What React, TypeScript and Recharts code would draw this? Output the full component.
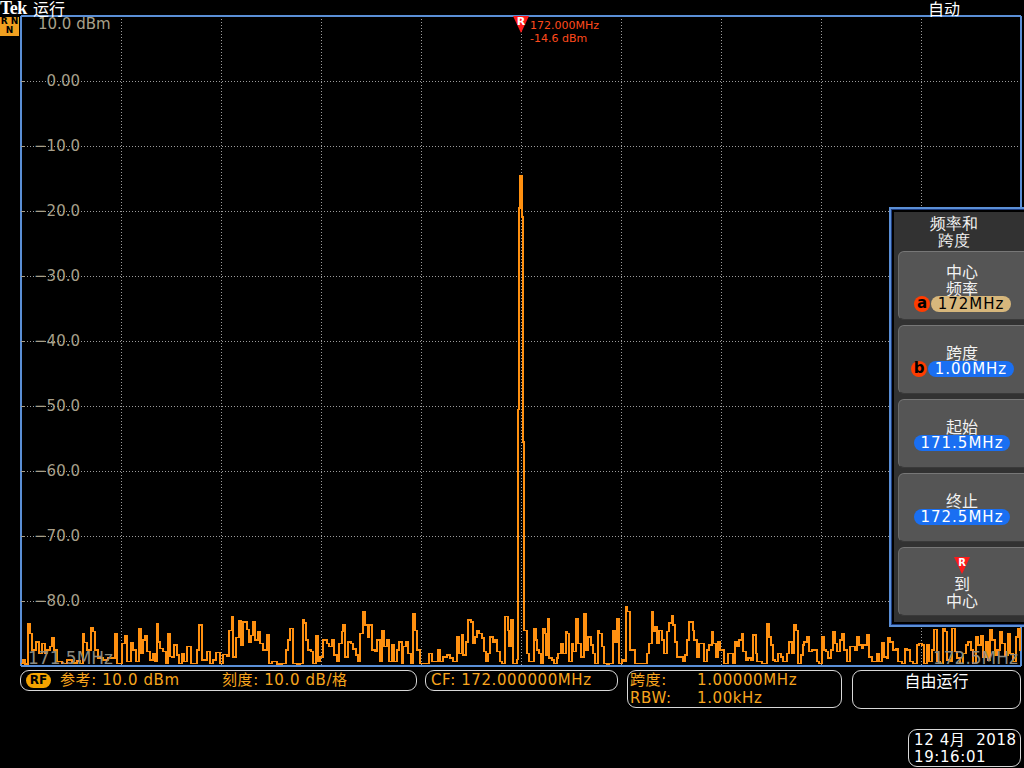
import React from "react";
import { LineChart, Line, XAxis, YAxis, CartesianGrid, ReferenceLine, ReferenceDot } from "recharts";

// ---------- data ----------
const START_MHZ = 171.5;
const STOP_MHZ = 172.5;
const CENTER_MHZ = 172.0;
const PEAK_DBM = -14.6;
const REF_DBM = 10;
const BOTTOM_DBM = -90;
const DB_TICKS = [10, 0, -10, -20, -30, -40, -50, -60, -70, -80, -90];
const FREQ_GRID = [171.5, 171.6, 171.7, 171.8, 171.9, 172.0, 172.1, 172.2, 172.3, 172.4, 172.5];
const FREQ_LABELS = ["171.5MHz", "172.5MHz"];

// [kHz above start frequency, level dBm]
const NOISE_LEFT: [number, number][] = [
  [0, -89.6], [2, -89.0], [4, -89.7], [7, -83.5], [9, -85.0], [11, -87.5], [15, -86.3], [18, -88.1],
  [21, -86.5], [24, -88.1], [26, -87.5], [29, -87.0], [31, -85.6], [33, -87.5], [36, -89.3], [41, -89.6],
  [46, -89.1], [51, -89.5], [56, -89.2], [59, -89.6], [62, -85.0], [63, -86.4], [66, -87.5], [70, -84.1],
  [72, -84.7], [74, -87.5], [77, -88.8], [82, -89.1], [87, -88.8], [94, -85.0], [96, -89.6], [101, -86.5],
  [104, -85.4], [106, -89.3], [110, -86.4], [112, -87.5], [115, -89.3], [118, -84.3], [120, -88.1], [122, -86.0],
  [124, -85.3], [126, -87.8], [129, -89.1], [132, -88.1], [134, -89.3], [136, -83.5], [137, -86.3], [139, -87.3],
  [142, -87.8], [145, -89.6], [147, -85.0], [149, -88.5], [151, -88.6], [153, -86.8], [156, -88.3], [158, -89.6],
  [161, -88.1], [163, -89.3], [166, -87.0], [170, -89.6], [176, -87.5], [178, -83.7], [181, -89.1], [186, -87.8],
  [189, -89.6], [192, -89.1], [195, -87.9], [199, -89.6], [202, -88.2], [206, -88.5], [208, -84.5], [211, -82.4],
  [212, -88.6], [215, -85.6], [218, -83.0], [220, -86.8], [222, -83.2], [226, -84.4], [228, -86.3], [230, -85.3],
  [232, -83.2], [234, -86.0], [237, -84.8], [239, -86.5], [242, -87.5], [246, -85.2], [248, -89.6], [251, -89.3],
  [256, -89.7], [261, -89.6], [265, -87.5], [267, -86.0], [269, -84.2], [272, -89.6], [276, -89.7], [279, -89.6],
  [282, -82.9], [283, -83.4], [285, -86.0], [287, -87.5], [290, -87.8], [292, -89.6], [295, -85.4], [297, -89.3],
  [299, -88.6], [302, -86.0], [306, -86.5], [308, -87.0], [311, -86.0], [313, -88.3], [316, -89.3], [318, -86.5],
  [321, -84.7], [322, -83.7], [324, -88.6], [327, -86.3], [330, -86.5], [332, -87.4], [335, -88.3], [337, -89.3],
  [339, -85.0], [342, -81.7], [344, -83.7], [347, -85.5], [348, -83.7], [351, -87.5], [354, -87.8], [356, -86.0],
  [359, -89.3], [361, -84.5], [363, -87.0], [366, -86.0], [368, -89.3], [371, -86.8], [373, -89.3], [376, -87.5],
  [378, -86.3], [381, -89.6], [382, -87.0], [385, -86.3], [387, -88.1], [390, -89.6], [392, -82.0], [394, -84.5],
  [396, -87.5], [399, -89.6], [404, -89.6], [408, -88.1], [411, -89.3], [414, -89.3], [417, -87.5], [419, -89.3],
  [422, -88.6], [426, -88.3], [429, -88.8], [432, -89.3], [436, -85.5], [438, -88.1], [441, -85.2], [442, -88.3],
  [445, -86.3], [447, -82.9], [450, -83.2], [452, -86.5], [454, -85.5], [456, -84.5], [458, -85.0], [461, -85.7],
  [463, -87.8], [465, -89.3], [467, -88.1], [469, -85.5], [472, -86.3], [474, -86.0], [476, -87.8], [479, -89.3],
  [481, -89.6], [484, -82.4], [487, -84.5], [488, -87.0], [490, -82.9], [492, -89.6], [495, -89.6],
];

const CARRIER: [number, number][] = [
  [496, -89.0], [497, -50.5], [498, -19.5], [499, -14.6], [501, -20.9], [502, -55.5],
];

const NOISE_RIGHT: [number, number][] = [
  [503, -84.5], [506, -88.1], [508, -89.3], [513, -84.2], [515, -86.0], [516, -87.5], [518, -88.1], [520, -89.6],
  [522, -84.2], [524, -85.0], [525, -88.3], [527, -82.8], [528, -88.8], [531, -89.1], [533, -89.6], [536, -88.8],
  [537, -88.1], [540, -86.5], [542, -88.1], [545, -84.8], [546, -85.0], [548, -89.3], [551, -86.5], [552, -87.8],
  [555, -82.8], [557, -86.5], [560, -88.6], [563, -82.0], [565, -87.5], [567, -85.5], [570, -86.8], [572, -88.1],
  [574, -89.6], [577, -84.5], [578, -85.0], [581, -87.0], [583, -89.6], [586, -89.7], [588, -89.6], [592, -84.5],
  [594, -86.3], [596, -82.8], [598, -89.6], [601, -89.1], [603, -89.3], [605, -80.9], [606, -81.6], [609, -87.5],
  [611, -87.5], [614, -89.6], [618, -89.6], [622, -89.6], [626, -88.1], [628, -86.5], [631, -81.7], [632, -84.7],
  [634, -84.0], [636, -86.5], [638, -84.5], [641, -86.0], [643, -88.1], [646, -84.7], [648, -83.4], [651, -82.2],
  [652, -83.7], [654, -86.3], [656, -88.6], [658, -88.6], [662, -89.3], [664, -88.3], [666, -86.0], [668, -83.2],
  [670, -83.2], [672, -84.5], [673, -86.0], [676, -88.6], [678, -86.5], [681, -86.5], [683, -89.3], [686, -87.5],
  [688, -86.8], [691, -84.8], [692, -86.5], [695, -88.6], [697, -86.3], [699, -87.5], [703, -89.6], [707, -88.1],
  [712, -89.6], [714, -86.3], [716, -87.0], [718, -86.0], [721, -85.0], [722, -87.8], [725, -89.1], [727, -88.8],
  [730, -89.1], [732, -85.2], [735, -88.1], [736, -89.3], [741, -89.6], [744, -89.6], [746, -83.5], [748, -85.5],
  [750, -86.8], [752, -89.1], [754, -89.3], [757, -88.1], [760, -88.6], [762, -89.3], [766, -88.1], [768, -86.3],
  [771, -88.1], [773, -83.7], [775, -84.5], [777, -89.6], [780, -88.3], [782, -86.8], [783, -86.3], [786, -85.5],
  [788, -87.8], [791, -87.5], [793, -87.5], [796, -89.3], [798, -89.6], [801, -85.5], [803, -87.5], [805, -87.8],
  [807, -88.8], [810, -87.5], [812, -84.7], [814, -86.5], [816, -87.8], [819, -86.0], [821, -85.0], [823, -87.5],
  [826, -89.3], [829, -87.0], [832, -87.0], [834, -87.5], [836, -85.5], [838, -86.8], [841, -87.3], [842, -86.8],
  [846, -85.2], [848, -88.6], [851, -89.3], [853, -89.3], [856, -88.1], [858, -89.3], [861, -86.4], [863, -88.6],
  [866, -88.8], [867, -85.7], [869, -86.3], [872, -87.5], [875, -87.3], [877, -89.3], [881, -89.6], [884, -87.3],
  [886, -87.5], [889, -89.3], [892, -89.6], [896, -86.8], [898, -86.5], [901, -86.8], [903, -89.6], [906, -86.8],
  [908, -89.3], [911, -87.5], [913, -84.4], [916, -89.3], [919, -89.6], [922, -84.2], [924, -84.7], [926, -89.1],
  [929, -89.3], [931, -84.2], [934, -87.8], [936, -88.8], [939, -89.6], [942, -88.1], [945, -86.8], [947, -86.3],
  [950, -87.5], [952, -89.6], [955, -85.5], [957, -86.8], [960, -85.4], [962, -88.6], [965, -86.3], [967, -89.1],
  [969, -84.4], [971, -86.0], [974, -88.3], [976, -87.5], [979, -84.8], [981, -86.5], [984, -88.3], [987, -85.0],
  [989, -88.1], [992, -89.3], [995, -85.5], [997, -84.2], [999, -87.5], [1000, -87.5],
];

const TRACE_DATA = [...NOISE_LEFT, ...CARRIER, ...NOISE_RIGHT].map(([k, v]) => ({
  f: START_MHZ + k / 1000,
  v,
}));

// ---------- styles ----------
const SANS = '"DejaVu Sans", "Noto Sans CJK SC", sans-serif';
const CJK = '"Noto Sans CJK SC", "DejaVu Sans", sans-serif';
const TRACE_COLOR = "#ff9010";
const STATUS_ORANGE = "#f7a51e";
const BORDER_BLUE = "#5b8fd6";
const AXIS_TEXT = "#a8a08b";
const GRID_GRAY = "#9c9c9c";
const MARKER_RED = "#ff4a1c";

const YTick = (props: any) => {
  const { x, y, payload } = props;
  const v = payload.value;
  if (v === BOTTOM_DBM) return <g />;
  if (v === REF_DBM) {
    return (
      <text x={x + 17} y={y + 8} dy="0.35em" fill={AXIS_TEXT} fontSize={15} fontFamily={SANS}>
        {`${v.toFixed(1)} dBm`}
      </text>
    );
  }
  const label = v === 0 ? "0.00" : `\u2212${Math.abs(v).toFixed(1)}`;
  return (
    <g>
      <line x1={x} x2={x + 4} y1={y} y2={y} stroke={AXIS_TEXT} strokeWidth={1} shapeRendering="crispEdges" />
      <text x={x + 59} y={y} dy="0.35em" textAnchor="end" fill={AXIS_TEXT} fontSize={15} fontFamily={SANS}>
        {label}
      </text>
    </g>
  );
};

const XTick = (props: any) => {
  const { x, y, payload } = props;
  const v = payload.value;
  if (v === START_MHZ) {
    return (
      <text x={x + 7} y={y - 2} fill="#8d8b80" fontSize={17} fontFamily={SANS}>
        {FREQ_LABELS[0]}
      </text>
    );
  }
  if (v === STOP_MHZ) {
    return (
      <text x={x - 3} y={y - 2} textAnchor="end" fill="#8d8b80" fontSize={17} fontFamily={SANS}>
        {FREQ_LABELS[1]}
      </text>
    );
  }
  return <g />;
};

const MarkerShape = (props: any) => {
  const { cx, cy } = props;
  return (
    <g>
      <polygon points={`${cx - 8},${cy} ${cx + 8},${cy} ${cx},${cy + 17}`} fill="#ff1a1a" />
      <text x={cx} y={cy + 9} textAnchor="middle" fill="#fff" fontSize={11} fontWeight="bold" fontFamily={SANS}>
        R
      </text>
      <text x={cx + 9} y={cy + 13} fill={MARKER_RED} fontSize={11} fontFamily={SANS}>
        {`${CENTER_MHZ.toFixed(3)}MHz`}
      </text>
      <text x={cx + 9} y={cy + 26} fill={MARKER_RED} fontSize={11} fontFamily={SANS}>
        {`${PEAK_DBM.toFixed(1)} dBm`}
      </text>
    </g>
  );
};

const btnBase: React.CSSProperties = {
  position: "absolute",
  left: 7,
  width: 140,
  height: 69,
  background: "#555555",
  borderRadius: 6,
  borderTop: "1px solid #777",
  borderLeft: "1px solid #6c6c6c",
  borderBottom: "1px solid #3a3a3a",
  boxSizing: "border-box",
  color: "#fff",
  fontFamily: CJK,
};

const line = (top: number, text: string, size = 16): React.ReactNode => (
  <div
    style={{
      position: "absolute",
      top,
      left: 0,
      width: 126,
      textAlign: "center",
      fontSize: size,
      lineHeight: "17px",
      color: "#f2f2f2",
    }}
  >
    {text}
  </div>
);

const pill = (left: number, top: number, width: number, bg: string, fg: string, text: string) => (
  <div
    style={{
      position: "absolute",
      left,
      top,
      width,
      height: 16,
      borderRadius: 8,
      background: bg,
      color: fg,
      fontFamily: SANS,
      fontSize: 15,
      lineHeight: "16px",
      textAlign: "center",
      letterSpacing: 1,
    }}
  >
    {text}
  </div>
);

const badge = (left: number, top: number, letter: string) => (
  <div
    style={{
      position: "absolute",
      left,
      top,
      width: 16,
      height: 16,
      borderRadius: 8,
      background: "#ff3c00",
      color: "#000",
      fontFamily: SANS,
      fontSize: 15,
      fontWeight: "bold",
      lineHeight: "14px",
      textAlign: "center",
    }}
  >
    {letter}
  </div>
);

const statusBox = (left: number, top: number, width: number, height: number): React.CSSProperties => ({
  position: "absolute",
  left,
  top,
  width,
  height,
  border: "1px solid #d8d8d8",
  borderRadius: 9,
  boxSizing: "border-box",
});

const stText = (left: number, top: number, text: string, color = STATUS_ORANGE) => (
  <div
    style={{
      position: "absolute",
      left,
      top,
      color,
      fontFamily: SANS,
      fontSize: 15,
      lineHeight: "16px",
      whiteSpace: "pre",
      letterSpacing: 0.6,
    }}
  >
    {text}
  </div>
);

export default function App() {
  return (
    <div
      style={{
        position: "fixed",
        left: 0,
        top: 0,
        width: 1024,
        height: 768,
        background: "#000",
        overflow: "hidden",
      }}
    >
      <div style={{ position: "absolute", left: 0, top: 0 }}>
        <LineChart
          width={1024}
          height={768}
          data={TRACE_DATA}
          margin={{ top: 16, right: 3, bottom: 102, left: 21 }}
        >
          <CartesianGrid stroke={GRID_GRAY} strokeDasharray="1 2" strokeWidth={1} shapeRendering="crispEdges" />
          <XAxis
            dataKey="f"
            type="number"
            domain={[START_MHZ, STOP_MHZ]}
            ticks={FREQ_GRID}
            mirror
            height={30}
            tickSize={0}
            tickMargin={0}
            axisLine={false}
            tickLine={false}
            tick={XTick}
            interval={0}
          />
          <XAxis
            xAxisId="top"
            orientation="top"
            dataKey="f"
            type="number"
            domain={[START_MHZ, STOP_MHZ]}
            ticks={FREQ_GRID}
            mirror
            height={30}
            tickSize={7}
            axisLine={false}
            tickLine={{ stroke: GRID_GRAY, strokeWidth: 1 }}
            tick={false}
            interval={0}
          />
          <YAxis
            type="number"
            domain={[BOTTOM_DBM, REF_DBM]}
            ticks={DB_TICKS}
            mirror
            width={60}
            tickSize={0}
            tickMargin={0}
            axisLine={false}
            tickLine={false}
            tick={YTick}
            interval={0}
          />
          <ReferenceLine x={START_MHZ} stroke={BORDER_BLUE} strokeWidth={2} />
          <ReferenceLine x={STOP_MHZ} stroke={BORDER_BLUE} strokeWidth={2} />
          <ReferenceLine y={BOTTOM_DBM} stroke={BORDER_BLUE} strokeWidth={2} />
          <Line
            type="stepAfter"
            dataKey="v"
            stroke={TRACE_COLOR}
            strokeWidth={1.5}
            dot={false}
            isAnimationActive={false}
            shapeRendering="crispEdges"
          />
          <ReferenceLine y={REF_DBM} stroke={BORDER_BLUE} strokeWidth={2} />
          <ReferenceDot x={CENTER_MHZ} y={REF_DBM} r={0} shape={MarkerShape} ifOverflow="visible" />
        </LineChart>
      </div>

      {/* header */}
      <div
        style={{
          position: "absolute",
          left: 0,
          top: 0,
          color: "#fff",
          fontFamily: '"Liberation Serif", serif',
          fontWeight: "bold",
          fontSize: 18,
          lineHeight: "16px",
          letterSpacing: -0.5,
        }}
      >
        Tek
      </div>
      <div style={{ position: "absolute", left: 33, top: 0, color: "#fff", fontFamily: CJK, fontSize: 16, lineHeight: "16px" }}>运行</div>
      <div style={{ position: "absolute", left: 928, top: 0, color: "#fff", fontFamily: CJK, fontSize: 16, lineHeight: "16px" }}>自动</div>

      {/* channel badge */}
      <div
        style={{
          position: "absolute",
          left: 0,
          top: 17,
          width: 19,
          height: 19,
          background: "#f0a020",
          color: "#000",
          fontFamily: SANS,
          fontSize: 9,
          fontWeight: "bold",
          lineHeight: "9px",
          textAlign: "center",
        }}
      >
        <div>R N</div>
        <div>N</div>
      </div>

      {/* side menu */}
      <div
        style={{
          position: "absolute",
          left: 889,
          top: 207,
          width: 150,
          height: 420,
          border: `2px solid ${BORDER_BLUE}`,
          boxShadow: "inset 0 0 0 1px #1d3c80, inset 0 0 0 3px #000",
          background: "#323232",
          boxSizing: "border-box",
        }}
      >
        <div style={{ position: "absolute", left: 0, top: 0, width: 150, height: 420 }}>
          {line(6, "频率和")}
          {line(23, "跨度")}
          <div style={{ ...btnBase, top: 42 }}>
            {line(11, "中心")}
            {line(28, "频率")}
            {badge(15, 44, "a")}
            {pill(32, 44, 80, "#d7b77c", "#000", "172MHz")}
          </div>
          <div style={{ ...btnBase, top: 116 }}>
            {line(18, "跨度")}
            {badge(12, 35, "b")}
            {pill(29, 35, 86, "#1a6ff2", "#fff", "1.00MHz")}
          </div>
          <div style={{ ...btnBase, top: 190 }}>
            {line(18, "起始")}
            {pill(15, 35, 96, "#1a6ff2", "#fff", "171.5MHz")}
          </div>
          <div style={{ ...btnBase, top: 264 }}>
            {line(18, "终止")}
            {pill(15, 35, 96, "#1a6ff2", "#fff", "172.5MHz")}
          </div>
          <div style={{ ...btnBase, top: 338 }}>
            <svg style={{ position: "absolute", left: 54, top: 9 }} width={18} height={18}>
              <polygon points="1,0 17,0 9,17" fill="#ff1a1a" />
              <text x={9} y={9} textAnchor="middle" fill="#fff" fontSize={10} fontWeight="bold" fontFamily={SANS}>
                R
              </text>
            </svg>
            {line(27, "到")}
            {line(44, "中心")}
          </div>
        </div>
      </div>

      {/* status bar */}
      <div style={statusBox(20, 670, 397, 21)} />
      <div
        style={{
          position: "absolute",
          left: 26,
          top: 673,
          width: 25,
          height: 15,
          borderRadius: 8,
          background: "#f5a300",
          color: "#000",
          fontFamily: SANS,
          fontSize: 12,
          fontWeight: "bold",
          lineHeight: "15px",
          textAlign: "center",
        }}
      >
        RF
      </div>
      {stText(60, 672, "参考: 10.0 dBm")}
      {stText(222, 672, "刻度: 10.0 dB/格")}

      <div style={statusBox(425, 670, 193, 21)} />
      {stText(431, 672, "CF: 172.000000MHz")}

      <div style={statusBox(627, 670, 215, 38)} />
      {stText(630, 672, "跨度:")}
      {stText(697, 672, "1.00000MHz")}
      {stText(630, 690, "RBW:")}
      {stText(697, 690, "1.00kHz")}

      <div style={statusBox(852, 670, 169, 39)} />
      <div
        style={{
          position: "absolute",
          left: 852,
          top: 670,
          width: 169,
          textAlign: "center",
          color: "#fff",
          fontFamily: CJK,
          fontSize: 16,
          lineHeight: "20px",
        }}
      >
        自由运行
      </div>

      <div style={statusBox(908, 729, 113, 38)} />
      {stText(914, 732, "12 4月  2018", "#fff")}
      {stText(914, 749, "19:16:01", "#fff")}
    </div>
  );
}
